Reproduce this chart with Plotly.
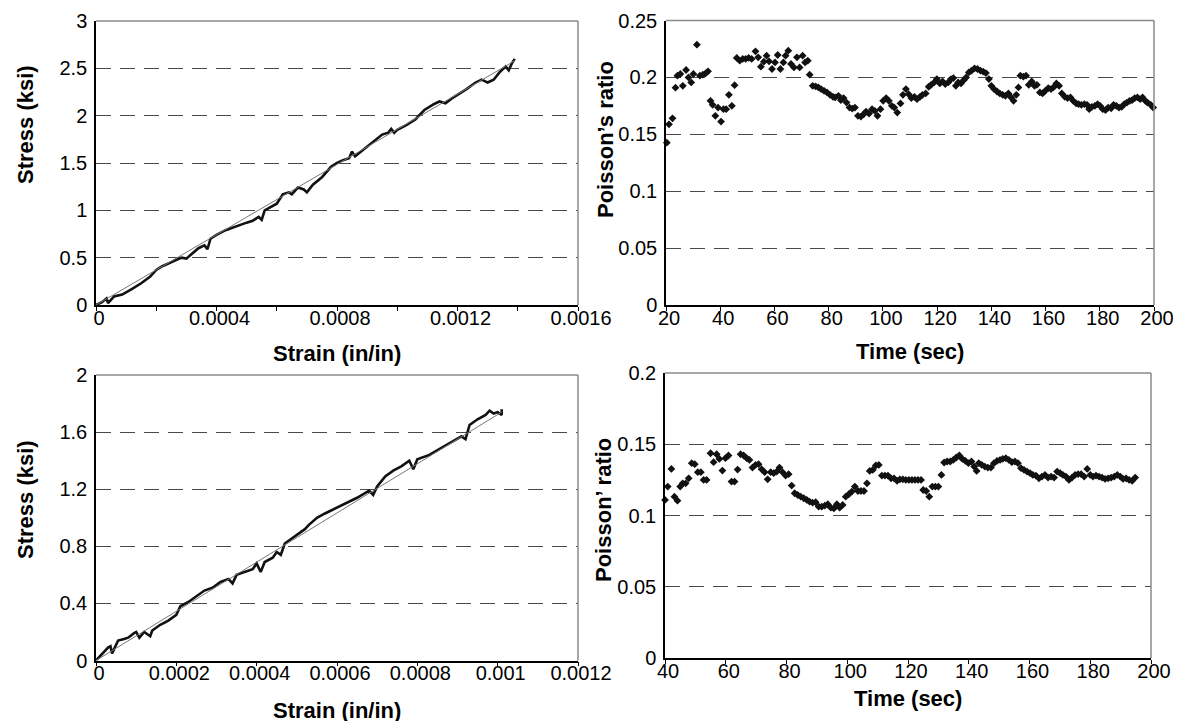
import plotly.graph_objects as go

# ---------------- data ----------------
# Top-left: stress-strain (specimen 1)
strain_1 = [0, 0.00002, 0.000035, 0.00004, 0.00006, 0.000087, 0.00012, 0.00015, 0.00018, 0.0002,
            0.00022, 0.00024, 0.00026, 0.000284, 0.0003, 0.00032, 0.00034, 0.00036, 0.00037, 0.00038,
            0.0004, 0.00043, 0.00047, 0.0005, 0.00052, 0.00054, 0.00055, 0.00056, 0.0006, 0.00062,
            0.00064, 0.00065, 0.00067, 0.00069, 0.0007, 0.00072, 0.00075, 0.00078, 0.0008, 0.00082,
            0.00084, 0.00085, 0.00086, 0.00089, 0.00092, 0.00095, 0.00097, 0.00098, 0.00099, 0.001,
            0.00103, 0.00106, 0.00109, 0.00112, 0.00114, 0.00116, 0.00118, 0.0012, 0.00123, 0.00126,
            0.00128, 0.0013, 0.00132, 0.00134, 0.00136, 0.00137, 0.00138, 0.00139]
stress_1 = [0, 0.03, 0.07, 0.02, 0.09, 0.11, 0.17, 0.23, 0.30, 0.37,
            0.41, 0.44, 0.47, 0.50, 0.49, 0.55, 0.60, 0.63, 0.59, 0.70,
            0.74, 0.79, 0.84, 0.87, 0.89, 0.93, 0.90, 1.00, 1.07, 1.17,
            1.19, 1.17, 1.24, 1.22, 1.19, 1.27, 1.35, 1.46, 1.50, 1.53,
            1.55, 1.62, 1.57, 1.65, 1.72, 1.80, 1.82, 1.86, 1.82, 1.85,
            1.90, 1.96, 2.06, 2.12, 2.15, 2.13, 2.18, 2.22, 2.28, 2.35,
            2.38, 2.35, 2.38, 2.46, 2.52, 2.48, 2.55, 2.60]
fit_strain_1 = [0, 0.00139]
fit_stress_1 = [0, 2.58]

# Bottom-left: stress-strain (specimen 2)
strain_2 = [0, 0.00001, 0.00002, 0.00003, 0.000036, 0.00004, 0.000045, 0.000055, 0.00007, 0.00008,
            0.000094, 0.0001, 0.000108, 0.00012, 0.000135, 0.00014, 0.00016, 0.00018, 0.0002, 0.00021,
            0.00023, 0.00025, 0.00027, 0.00029, 0.00031, 0.00033, 0.00034, 0.00035, 0.00037, 0.00039,
            0.0004, 0.00041, 0.00042, 0.00044, 0.00045, 0.00046, 0.00047, 0.0005, 0.00052, 0.00053,
            0.00055, 0.00057, 0.0006, 0.00062, 0.00065, 0.00068, 0.00069, 0.0007, 0.00072, 0.00074,
            0.00076, 0.00078, 0.00079, 0.0008, 0.00083, 0.00086, 0.00089, 0.00091, 0.00092, 0.00093,
            0.00095, 0.00097, 0.00098, 0.00099, 0.001, 0.00101, 0.00101]
stress_2 = [0, 0.03, 0.06, 0.09, 0.10, 0.05, 0.08, 0.14, 0.15, 0.16,
            0.19, 0.20, 0.16, 0.20, 0.17, 0.21, 0.25, 0.28, 0.32, 0.38,
            0.41, 0.45, 0.49, 0.51, 0.55, 0.57, 0.54, 0.60, 0.62, 0.64,
            0.68, 0.62, 0.69, 0.72, 0.76, 0.74, 0.82, 0.88, 0.92, 0.95,
            1.00, 1.03, 1.07, 1.10, 1.14, 1.19, 1.16, 1.22, 1.29, 1.33,
            1.36, 1.40, 1.34, 1.41, 1.44, 1.49, 1.54, 1.57, 1.55, 1.65,
            1.69, 1.72, 1.75, 1.73, 1.74, 1.72, 1.76]
fit_strain_2 = [0, 0.00101]
fit_stress_2 = [0, 1.74]

# Top-right: Poisson's ratio vs time (specimen 1)
time_1 = [20.3, 21.1, 22.4, 23.5, 24.2, 25.3, 26.2, 27.4, 28.3, 29.3, 30.1, 31.4, 32.5, 33.6, 34.6,
          35.5, 36.4, 37.2, 38.2, 39.2, 40.3, 41.2, 42.2, 43.2, 44.3, 45.3, 46.1, 47.2, 48.3, 49.4,
          50.5, 51.6, 53.0, 54.0, 55.0, 56.1, 57.1, 58.0, 59.1, 60.2, 61.2, 62.2, 63.3, 64.1, 65.1,
          66.1, 67.2, 68.3, 69.3, 70.4, 71.3, 72.3, 73.0, 74.1, 75.2, 76.2, 77.2, 78.3, 79.4, 80.5,
          81.6, 82.4, 83.6, 84.5, 85.5, 86.6, 87.7, 88.7, 89.7, 90.8, 91.9, 92.9, 93.8, 94.9, 96.0,
          97.0, 98.0, 99.1, 100.1, 101.2, 102.2, 103.3, 104.2, 105.3, 106.5, 107.4, 108.5, 109.5, 110.5,
          111.6, 112.6, 113.7, 114.6, 115.8, 116.9, 117.8, 118.9, 119.9, 121.0, 122.0, 123.0, 124.1,
          125.1, 126.0, 126.9, 127.8, 128.8, 129.8, 130.7, 131.7, 132.7, 133.8, 134.9, 136.0, 137.0,
          138.0, 139.1, 140.0, 141.0, 142.1, 143.1, 144.2, 145.2, 146.3, 147.3, 148.2, 149.2, 150.0,
          150.7, 151.8, 152.8, 153.8, 154.9, 155.9, 156.8, 157.9, 158.9, 159.9, 161.0, 162.0, 162.9,
          164.0, 165.0, 166.0, 167.1, 168.1, 169.2, 170.2, 171.3, 172.2, 173.2, 174.3, 175.3, 176.1,
          177.1, 178.2, 179.2, 180.1, 181.1, 182.1, 183.1, 184.2, 185.1, 186.1, 187.1, 188.1, 189.0,
          190.0, 191.0, 191.9, 192.9, 193.9, 194.9, 195.8, 196.8, 197.6, 198.8, 199.7]
poisson_1 = [0.1426, 0.1588, 0.164, 0.191, 0.2015, 0.203, 0.1926, 0.2065, 0.2, 0.1956, 0.203, 0.2288,
             0.2015, 0.2024, 0.2035, 0.2053, 0.1794, 0.1759, 0.1662, 0.1735, 0.1612, 0.1721, 0.1721,
             0.1847, 0.175, 0.1932, 0.2171, 0.2147, 0.2162, 0.2162, 0.2171, 0.2162, 0.2229, 0.2176,
             0.2094, 0.2138, 0.2191, 0.2141, 0.2074, 0.2132, 0.2197, 0.2074, 0.2132, 0.2191, 0.2235,
             0.2118, 0.2088, 0.2176, 0.2088, 0.2191, 0.2132, 0.2147, 0.2024, 0.1926, 0.1921, 0.1912,
             0.1897, 0.1882, 0.1868, 0.1847, 0.1829, 0.1824, 0.1838, 0.18, 0.1818, 0.1779, 0.1735,
             0.1726, 0.1735, 0.1662, 0.1656, 0.1676, 0.17, 0.1682, 0.1721, 0.1706, 0.1662, 0.1721,
             0.1794, 0.1818, 0.1794, 0.175, 0.1735, 0.1691, 0.1771, 0.1847, 0.1897, 0.1853, 0.1818,
             0.1829, 0.1809, 0.1829, 0.1847, 0.1859, 0.1918, 0.1935, 0.1956, 0.1985, 0.1947, 0.1965,
             0.1941, 0.1956, 0.1985, 0.1994, 0.1926, 0.1956, 0.1947, 0.1976, 0.2, 0.2044, 0.2059,
             0.2079, 0.2074, 0.2059, 0.205, 0.2038, 0.1985, 0.1926, 0.1897, 0.1876, 0.1859, 0.1847,
             0.1838, 0.1859, 0.1824, 0.1794, 0.1847, 0.1912, 0.2015, 0.2006, 0.2015, 0.1935, 0.1965,
             0.1926, 0.1935, 0.1868, 0.1859, 0.1882, 0.1906, 0.1897, 0.1912, 0.1947, 0.1926, 0.1859,
             0.1829, 0.1818, 0.1824, 0.1794, 0.1771, 0.1765, 0.1759, 0.1765, 0.1759, 0.1721, 0.1741,
             0.175, 0.1765, 0.175, 0.1721, 0.1712, 0.1735, 0.1729, 0.1759, 0.175, 0.1735, 0.1741,
             0.1765, 0.1779, 0.1794, 0.18, 0.1818, 0.1824, 0.1809, 0.1824, 0.1794, 0.1779, 0.1759,
             0.1735]

# Bottom-right: Poisson's ratio vs time (specimen 2)
time_2 = [40.0, 40.9, 42.1, 43.1, 44.1, 45.0, 45.8, 46.8, 47.8, 48.8, 49.8, 50.8, 51.8, 52.7, 53.7,
          55.0, 56.0, 57.0, 57.9, 58.9, 59.9, 60.9, 61.9, 62.9, 63.9, 64.9, 65.9, 66.9, 67.8, 68.8,
          69.8, 70.8, 71.8, 72.8, 73.8, 74.8, 75.8, 76.8, 77.7, 78.7, 79.7, 80.7, 81.7, 82.7, 83.7,
          84.7, 85.7, 86.7, 87.6, 88.6, 89.6, 90.6, 91.6, 92.6, 93.6, 94.6, 95.6, 96.6, 97.5, 98.5,
          99.5, 100.5, 101.5, 102.5, 103.5, 104.5, 105.5, 106.5, 107.4, 108.4, 109.4, 110.4, 111.4,
          112.4, 113.4, 114.4, 115.4, 116.4, 117.3, 118.3, 119.3, 120.3, 121.3, 122.3, 123.3, 124.3,
          125.0, 126.0, 127.0, 128.0, 129.0, 130.0, 131.0, 131.9, 132.9, 133.9, 134.9, 135.9, 136.9,
          137.9, 138.9, 139.9, 140.9, 141.8, 142.6, 143.3, 144.3, 145.3, 146.3, 147.3, 148.3, 149.3,
          150.3, 151.2, 152.2, 153.2, 154.2, 155.2, 156.2, 157.2, 158.2, 159.2, 160.2, 161.1, 162.1,
          163.1, 164.1, 165.1, 166.1, 167.1, 168.1, 169.1, 170.1, 171.0, 172.0, 173.0, 174.0, 175.0,
          176.0, 177.0, 178.0, 179.0, 180.0, 180.9, 181.9, 182.9, 183.9, 184.9, 185.9, 186.9, 187.9,
          188.9, 189.9, 190.8, 191.8, 192.8, 193.8, 194.8]
poisson_2 = [0.1109, 0.1203, 0.1327, 0.1132, 0.1104, 0.1203, 0.1226, 0.1226, 0.1261, 0.1367, 0.136,
             0.1304, 0.1304, 0.125, 0.125, 0.1437, 0.1374, 0.143, 0.1397, 0.1315, 0.1402, 0.1421,
             0.1238, 0.1238, 0.1322, 0.143, 0.1421, 0.1402, 0.139, 0.1336, 0.1355, 0.136, 0.1325,
             0.1304, 0.1254, 0.1304, 0.1297, 0.1308, 0.1336, 0.1304, 0.128, 0.129, 0.121, 0.1156,
             0.1144, 0.1132, 0.1121, 0.1109, 0.1097, 0.109, 0.1093, 0.1062, 0.1062, 0.1069, 0.1079,
             0.1055, 0.105, 0.1079, 0.1055, 0.1074, 0.1132, 0.1149, 0.1168, 0.1203, 0.1172, 0.1172,
             0.1172, 0.1226, 0.1313, 0.132, 0.1351, 0.1355, 0.128, 0.128, 0.128, 0.1261, 0.1261,
             0.1243, 0.1254, 0.1254, 0.125, 0.125, 0.125, 0.125, 0.125, 0.125, 0.1179, 0.1172,
             0.1132, 0.1203, 0.1203, 0.1203, 0.1285, 0.1372, 0.1379, 0.1379, 0.139, 0.1407, 0.1421,
             0.1397, 0.1383, 0.1367, 0.1379, 0.1343, 0.1313, 0.1367, 0.1355, 0.1343, 0.1336, 0.1336,
             0.1367, 0.1383, 0.139, 0.1397, 0.1402, 0.139, 0.1374, 0.1379, 0.1367, 0.1332, 0.132,
             0.1308, 0.1297, 0.1285, 0.128, 0.1261, 0.1273, 0.1285, 0.1266, 0.1273, 0.1266, 0.1308,
             0.1297, 0.1285, 0.1273, 0.125, 0.1266, 0.1285, 0.129, 0.129, 0.1273, 0.1327, 0.1285,
             0.1273, 0.128, 0.1273, 0.1266, 0.1257, 0.1261, 0.1266, 0.1273, 0.1285, 0.1273, 0.1257,
             0.1261, 0.125, 0.1243, 0.1266]

# Axis ticks
tl_xtick_vals = [0, 0.0002, 0.0004, 0.0006, 0.0008, 0.001, 0.0012, 0.0014, 0.0016]
tl_xtick_text = ["0", "", "0.0004", "", "0.0008", "", "0.0012", "", "0.0016"]
tl_ytick_vals = [0, 0.5, 1, 1.5, 2, 2.5, 3]
tl_ytick_text = ["0", "0.5", "1", "1.5", "2", "2.5", "3"]
bl_xtick_vals = [0, 0.0002, 0.0004, 0.0006, 0.0008, 0.001, 0.0012]
bl_xtick_text = ["0", "0.0002", "0.0004", "0.0006", "0.0008", "0.001", "0.0012"]
bl_ytick_vals = [0, 0.4, 0.8, 1.2, 1.6, 2]
bl_ytick_text = ["0", "0.4", "0.8", "1.2", "1.6", "2"]
tr_xtick_vals = [20, 40, 60, 80, 100, 120, 140, 160, 180, 200]
tr_xtick_text = ["20", "40", "60", "80", "100", "120", "140", "160", "180", "200"]
tr_ytick_vals = [0, 0.05, 0.1, 0.15, 0.2, 0.25]
tr_ytick_text = ["0", "0.05", "0.1", "0.15", "0.2", "0.25"]
br_xtick_vals = [40, 60, 80, 100, 120, 140, 160, 180, 200]
br_xtick_text = ["40", "60", "80", "100", "120", "140", "160", "180", "200"]
br_ytick_vals = [0, 0.05, 0.1, 0.15, 0.2]
br_ytick_text = ["0", "0.05", "0.1", "0.15", "0.2"]

# ---------------- figure ----------------
W, H = 1181, 721
FONT = "Liberation Sans, Arial, sans-serif"


def px_x(p):
    return p / W


def px_y(p):
    return 1 - p / H


fig = go.Figure()

# Stress-strain curves
fig.add_trace(go.Scatter(x=strain_1, y=stress_1, mode="lines", line=dict(color="#111", width=2.6),
                         xaxis="x", yaxis="y", showlegend=False))
fig.add_trace(go.Scatter(x=fit_strain_1, y=fit_stress_1, mode="lines", line=dict(color="#777", width=1),
                         xaxis="x", yaxis="y", showlegend=False))
fig.add_trace(go.Scatter(x=strain_2, y=stress_2, mode="lines", line=dict(color="#111", width=2.6),
                         xaxis="x3", yaxis="y3", showlegend=False))
fig.add_trace(go.Scatter(x=fit_strain_2, y=fit_stress_2, mode="lines", line=dict(color="#777", width=1),
                         xaxis="x3", yaxis="y3", showlegend=False))
# Poisson's ratio scatter
fig.add_trace(go.Scatter(x=time_1, y=poisson_1, mode="markers",
                         marker=dict(symbol="diamond", size=6, color="#111"), cliponaxis=False,
                         xaxis="x2", yaxis="y2", showlegend=False))
fig.add_trace(go.Scatter(x=time_2, y=poisson_2, mode="markers",
                         marker=dict(symbol="diamond", size=6, color="#111"), cliponaxis=False,
                         xaxis="x4", yaxis="y4", showlegend=False))

tickfont = dict(family=FONT, size=20, color="#000")
grid = dict(showgrid=True, gridcolor="#4a4a4a", gridwidth=1.2, griddash="15px,9px")


def xax(dom, rng, vals, text, anchor):
    return dict(domain=dom, range=rng, tickvals=vals, ticktext=text, showgrid=False, zeroline=False,
                showline=True, linecolor="#000", linewidth=1.5, ticks="outside", ticklen=4,
                tickcolor="#000", tickwidth=1.2, tickfont=tickfont, anchor=anchor, automargin=False,
                ticklabelstandoff=-10, ticklabelshift=3, fixedrange=True)


def yax(dom, rng, vals, text, anchor):
    d = dict(domain=dom, range=rng, tickvals=vals, ticktext=text, zeroline=False,
             showline=True, linecolor="#000", linewidth=1.5, ticks="", ticklen=0,
             tickfont=tickfont, anchor=anchor, automargin=False, fixedrange=True,
             ticklabelstandoff=3)
    d.update(grid)
    return d


fig.update_layout(
    width=W, height=H, margin=dict(l=0, r=0, t=0, b=0),
    paper_bgcolor="white", plot_bgcolor="white",
    font=dict(family=FONT, color="#000"),
    xaxis=xax([px_x(88), px_x(570)], [0, 0.0016], tl_xtick_vals, tl_xtick_text, "y"),
    yaxis=yax([px_y(297), px_y(13)], [0, 3], tl_ytick_vals, tl_ytick_text, "x"),
    xaxis2=xax([px_x(658), px_x(1146)], [20, 200], tr_xtick_vals, tr_xtick_text, "y2"),
    yaxis2=yax([px_y(297), px_y(12.5)], [0, 0.25], tr_ytick_vals, tr_ytick_text, "x2"),
    xaxis3=xax([px_x(88), px_x(570)], [0, 0.0012], bl_xtick_vals, bl_xtick_text, "y3"),
    yaxis3=yax([px_y(652.5), px_y(367)], [0, 2], bl_ytick_vals, bl_ytick_text, "x3"),
    xaxis4=xax([px_x(657), px_x(1143)], [40, 200], br_xtick_vals, br_xtick_text, "y4"),
    yaxis4=yax([px_y(650), px_y(365)], [0, 0.2], br_ytick_vals, br_ytick_text, "x4"),
)

# gray top/right frame
shapes = []
for xr, yr in [("x", "y"), ("x2", "y2"), ("x3", "y3"), ("x4", "y4")]:
    shapes.append(dict(type="line", xref=f"{xr} domain", yref=f"{yr} domain", x0=0, x1=1, y0=1, y1=1,
                       line=dict(color="#8a8a8a", width=1.5), layer="above"))
    shapes.append(dict(type="line", xref=f"{xr} domain", yref=f"{yr} domain", x0=1, x1=1, y0=0, y1=1,
                       line=dict(color="#8a8a8a", width=1.5), layer="above"))
fig.update_layout(shapes=shapes)

title_font = dict(family=FONT, size=22, color="#000")


def title(text, x, y, angle=0):
    return dict(text=f"<b>{text}</b>", x=px_x(x), y=px_y(y), xref="paper", yref="paper",
                showarrow=False, xanchor="center", yanchor="middle", textangle=angle, font=title_font)


fig.update_layout(annotations=[
    title("Strain (in/in)", 329, 345),
    title("Stress (ksi)", 17, 117, -90),
    title("Time (sec)", 902, 343),
    title("Poisson’s ratio", 597, 132, -90),
    title("Strain (in/in)", 329, 702),
    title("Stress (ksi)", 17, 492, -90),
    title("Time (sec)", 900, 690),
    title("Poisson’ ratio", 595, 502, -90),
])

fig.write_html("out.html")
